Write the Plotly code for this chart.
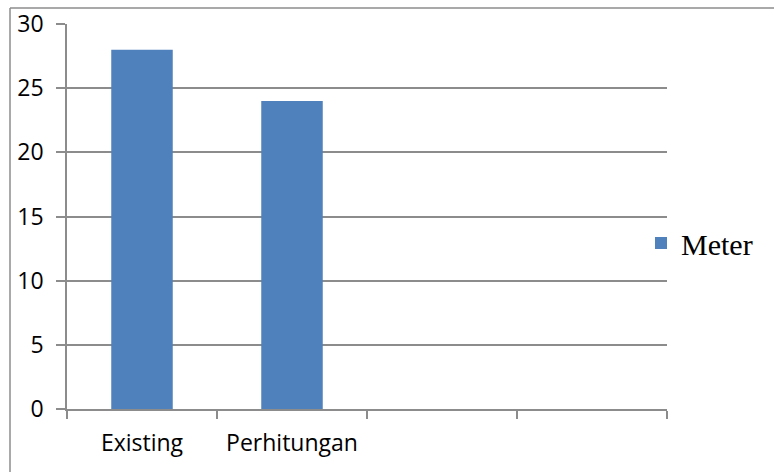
import plotly.graph_objects as go

categories = ["Existing", "Perhitungan", " ", "  "]
meter = [28, 24, None, None]
y_ticks = [0, 5, 10, 15, 20, 25, 30]

L, R, T, B = 67, 667, 24, 409
W, H = 774, 472
PW = W - L  # paper width (right margin 0)

fig = go.Figure()
fig.add_trace(go.Bar(x=categories, y=meter, name="Meter",
                     marker=dict(color="#4F81BD", line=dict(width=0)),
                     width=0.41))

def px_x(p):
    return (p - L) / PW

def px_y(p):
    return (B - p) / (B - T)

fig.update_layout(
    width=W, height=H,
    margin=dict(l=L, r=0, t=T, b=H - B, pad=0),
    plot_bgcolor="white", paper_bgcolor="white",
    showlegend=True,
    legend=dict(x=px_x(641), xanchor="left", y=px_y(243), yanchor="middle",
                font=dict(family="Liberation Serif", size=30, color="black"),
                itemwidth=30, bgcolor="rgba(0,0,0,0)"),
    xaxis=dict(type="category", domain=[0, (R - L) / PW],
               tickson="boundaries", ticks="outside", ticklen=8,
               tickcolor="#8c8c8c", tickwidth=1.5,
               showline=True, linecolor="#8c8c8c", linewidth=1.5,
               showgrid=False, range=[-0.5, 3.5], ticklabelstandoff=13,
               tickfont=dict(family="Open Sans", size=23, color="black")),
    yaxis=dict(range=[0, 30], tickvals=y_ticks, ticks="outside", ticklen=9,
               tickcolor="#8c8c8c", tickwidth=1.5,
               showline=True, linecolor="#8c8c8c", linewidth=1.5,
               showgrid=True, gridcolor="#8c8c8c", gridwidth=1.5,
               zeroline=False, ticklabelstandoff=8,
               tickfont=dict(family="Open Sans", size=23, color="black")),
)

# outer chart border (top and left edges visible)
fig.add_shape(type="line", xref="paper", yref="paper",
              x0=px_x(10), x1=px_x(780), y0=px_y(8), y1=px_y(8),
              line=dict(color="#8c8c8c", width=1.5))
fig.add_shape(type="line", xref="paper", yref="paper",
              x0=px_x(10), x1=px_x(10), y0=px_y(8), y1=px_y(480),
              line=dict(color="#8c8c8c", width=1.5))

fig.write_html("out.html")
